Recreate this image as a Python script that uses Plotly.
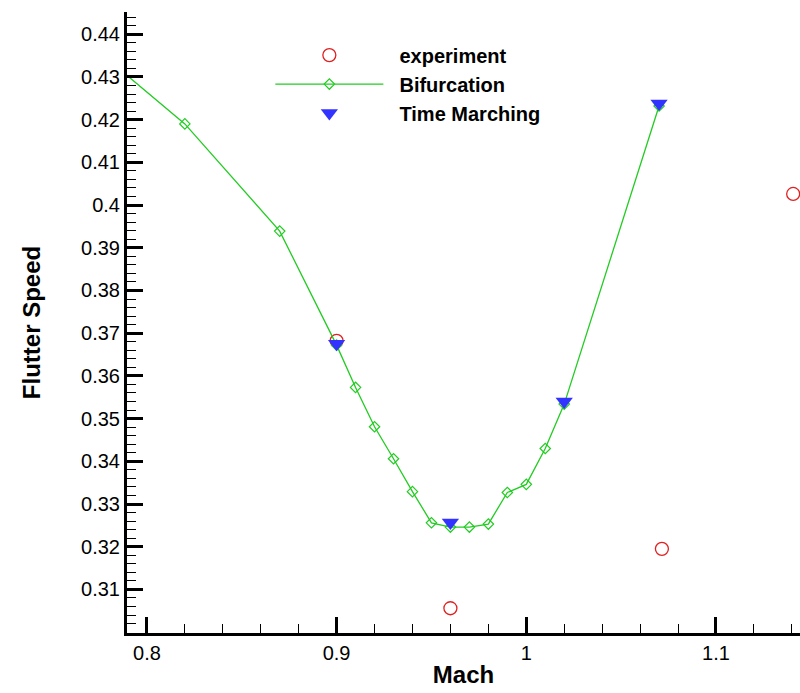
import plotly.graph_objects as go

# Data
exp_mach = [0.90, 0.96, 1.0715, 1.1407]
exp_speed = [0.3682, 0.3056, 0.3195, 0.4026]

bif_mach = [0.78, 0.82, 0.87, 0.90, 0.91, 0.92, 0.93, 0.94, 0.95, 0.96, 0.97, 0.98, 0.99, 1.00, 1.01, 1.02, 1.07]
bif_speed = [0.4339, 0.4190, 0.3939, 0.3672, 0.3573, 0.3481, 0.3406, 0.3329, 0.3256, 0.3246, 0.3246, 0.3253, 0.3327, 0.3346, 0.3430, 0.3534, 0.4232]

tm_mach = [0.90, 0.96, 1.02, 1.07]
tm_speed = [0.3675, 0.3257, 0.3540, 0.4238]

x_ticks = [0.8, 0.9, 1.0, 1.1]
x_ticktext = ["0.8", "0.9", "1", "1.1"]
y_ticks = [0.31, 0.32, 0.33, 0.34, 0.35, 0.36, 0.37, 0.38, 0.39, 0.40, 0.41, 0.42, 0.43, 0.44]
y_ticktext = ["0.31", "0.32", "0.33", "0.34", "0.35", "0.36", "0.37", "0.38", "0.39", "0.4", "0.41", "0.42", "0.43", "0.44"]

FONT = "Liberation Sans, Arial, sans-serif"
NB = "\u00a0\u00a0"

fig = go.Figure()
fig.add_trace(go.Scatter(
    x=exp_mach, y=exp_speed, mode="markers", name=NB + "experiment", legendgroup="a",
    marker=dict(symbol="circle-open", size=13, color="#e02020", line=dict(width=1.3)),
))
fig.add_trace(go.Scatter(
    x=bif_mach, y=bif_speed, mode="lines+markers", name=NB + "Bifurcation", legendgroup="b",
    line=dict(color="#22cc22", width=1.3),
    marker=dict(symbol="diamond-open", size=8, color="#22cc22", line=dict(width=1.2)),
))
fig.add_trace(go.Scatter(
    x=tm_mach, y=tm_speed, mode="markers", name=NB + "Time Marching", legendgroup="c",
    marker=dict(symbol="triangle-down", size=15, color="#3333ff"),
))

axis_common = dict(
    showgrid=False, zeroline=False, showline=True, linecolor="black", linewidth=3,
    ticks="inside", tickcolor="black", tickwidth=3, ticklen=16,
    tickfont=dict(family=FONT, size=20, color="black"),
    mirror=False,
)

fig.update_xaxes(
    range=[0.7895, 1.1443], tickvals=x_ticks, ticktext=x_ticktext,
    minor=dict(ticks="inside", dtick=0.02, ticklen=9, tickwidth=1.3, tickcolor="black"),
    title=dict(text="Mach", font=dict(family=FONT, size=24, color="black", weight="bold"), standoff=4),
    **axis_common,
)
fig.update_yaxes(
    range=[0.2998, 0.4452], tickvals=y_ticks, ticktext=y_ticktext,
    minor=dict(ticks="inside", dtick=0.002, ticklen=9, tickwidth=1.3, tickcolor="black"),
    title=dict(text="Flutter Speed", font=dict(family=FONT, size=24, color="black", weight="bold"), standoff=34),
    **axis_common,
)

fig.update_layout(
    width=800, height=693,
    margin=dict(l=127, r=0, t=12, b=60),
    plot_bgcolor="white", paper_bgcolor="white",
    legend=dict(
        x=0.213, y=0.962, xanchor="left", yanchor="top",
        font=dict(family=FONT, size=20, color="black", weight="bold"),
        bgcolor="rgba(0,0,0,0)", itemwidth=108,
        traceorder="grouped", tracegroupgap=0,
    ),
)

fig.write_html("out.html")
